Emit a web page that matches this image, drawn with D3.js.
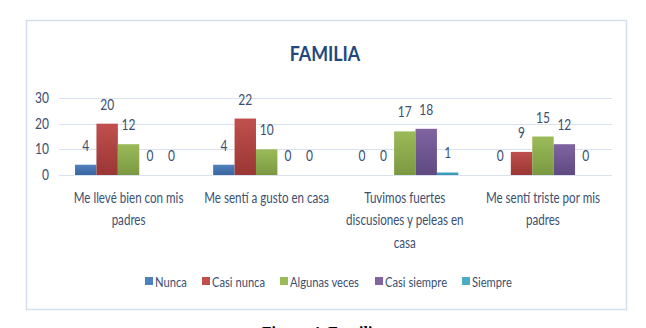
<!DOCTYPE html>
<html lang="en">
<head>
<meta charset="UTF-8">
<script src="https://d3js.org/d3.v7.min.js"></script>
<style>
  body { margin: 0; background: #fff; }
  text { font-family: Lato, "Open Sans", sans-serif; fill: #3c4f70; }
  .title { font-weight: bold; fill: #23487c; }
  .caption { font-family: "Liberation Serif", serif; font-weight: bold; fill: #000; }
</style>
</head>
<body>
<svg class="chart" width="646" height="328"></svg>
<script>

const categories = [
  ["Me llevé bien con mis", "padres"],
  ["Me sentí a gusto en casa"],
  ["Tuvimos fuertes", "discusiones y peleas en", "casa"],
  ["Me sentí triste por mis", "padres"]
]
const series = ["Nunca", "Casi nunca", "Algunas veces", "Casi siempre", "Siempre"]
const nunca        = [4, 4, 0, 0]
const casiNunca    = [20, 22, 0, 9]
const algunasVeces = [12, 10, 17, 15]
const casiSiempre  = [0, 0, 18, 12]
const siempre      = [0, 0, 1, 0]
const yTicks = [0, 10, 20, 30]

const values = [nunca, casiNunca, algunasVeces, casiSiempre, siempre]
const colors = [
  ["#4f81bd", "#3a65a0"],
  ["#c0504d", "#9a3634"],
  ["#9bbb59", "#7b9841"],
  ["#8064a2", "#5e4a81"],
  ["#4bacc6", "#3590aa"]
]

// text in the reference is horizontally narrow, so squeeze it
const sx = 0.8
const squeeze = (x, y) => `translate(${x},${y}) scale(${sx},1)`

const svg = d3.select(".chart")

// chart frame
svg.append("rect")
    .attr("x", 26.5).attr("y", 20.5)
    .attr("width", 600).attr("height", 289)
    .attr("fill", "#fff")
    .attr("stroke", "#d5e0ef")
    .attr("stroke-width", 1.5)

svg.append("text")
    .attr("class", "title")
    .attr("transform", `translate(325,61) scale(0.85,1)`)
    .attr("text-anchor", "middle")
    .style("font-size", "21px")
    .text("FAMILIA")

let x0 = d3.scaleBand()
    .domain(d3.range(categories.length))
    .range([59.5, 612])

let x1 = d3.scaleBand()
    .domain(d3.range(series.length))
    .range([0, x0.bandwidth()])
    .paddingOuter(0.725)

let y = d3.scaleLinear()
    .domain([0, 30])
    .range([175, 98])

// gradients
let defs = svg.append("defs")
colors.forEach((c, i) => {
  let g = defs.append("linearGradient")
      .attr("id", "grad" + i)
      .attr("x1", 0).attr("y1", 0).attr("x2", 0).attr("y2", 1)
  g.append("stop").attr("offset", "0%").attr("stop-color", c[0])
  g.append("stop").attr("offset", "100%").attr("stop-color", c[1])
})

// gridlines
svg.append("g")
  .selectAll("line")
  .data(yTicks)
  .join("line")
    .attr("x1", 59).attr("x2", 612)
    .attr("y1", d => Math.round(y(d)) + 0.5)
    .attr("y2", d => Math.round(y(d)) + 0.5)
    .attr("stroke", "#d9e2ef")
    .attr("stroke-width", 1)

svg.append("g")
  .selectAll("text")
  .data(yTicks)
  .join("text")
    .attr("transform", d => squeeze(49, y(d) + 5))
    .attr("text-anchor", "end")
    .style("font-size", "15px")
    .text(d => d)

// bars
let cat = svg.append("g")
  .selectAll("g")
  .data(categories)
  .join("g")
    .attr("transform", (d, i) => `translate(${x0(i)},0)`)

cat.each(function(c, ci) {
  let g = d3.select(this)
  let vals = series.map((s, si) => ({si, v: values[si][ci]}))
  g.selectAll("rect")
    .data(vals.filter(d => d.v > 0))
    .join("rect")
      .attr("x", d => x1(d.si))
      .attr("y", d => y(d.v))
      .attr("width", x1.bandwidth())
      .attr("height", d => y(0) - y(d.v))
      .attr("fill", d => `url(#grad${d.si})`)
  g.selectAll("text.val")
    .data(vals)
    .join("text")
      .attr("class", "val")
      .attr("transform", d => squeeze(x1(d.si) + x1.bandwidth() / 2, y(d.v) - 14))
      .attr("text-anchor", "middle")
      .style("font-size", "15px")
      .text(d => d.v)
  g.append("text")
      .attr("transform", squeeze(x0.bandwidth() / 2, 203))
      .attr("text-anchor", "middle")
      .style("font-size", "14.5px")
    .selectAll("tspan")
    .data(c)
    .join("tspan")
      .attr("x", 0)
      .attr("y", (d, i) => i * 22.5)
      .text(d => d)
})

// legend
const legendX = [145, 202, 280, 375, 462]
let leg = svg.append("g")
  .selectAll("g")
  .data(series)
  .join("g")
    .attr("transform", (d, i) => `translate(${legendX[i]},277)`)
leg.append("rect")
    .attr("width", 8).attr("height", 8)
    .attr("fill", (d, i) => colors[i][0])
leg.append("text")
    .attr("transform", squeeze(10, 9.5))
    .style("font-size", "14px")
    .text(d => d)

svg.append("text")
    .attr("class", "caption")
    .attr("x", 321).attr("y", 338)
    .attr("text-anchor", "middle")
    .style("font-size", "16px")
    .text("Figura 4. Familia")

</script>
</body>
</html>
